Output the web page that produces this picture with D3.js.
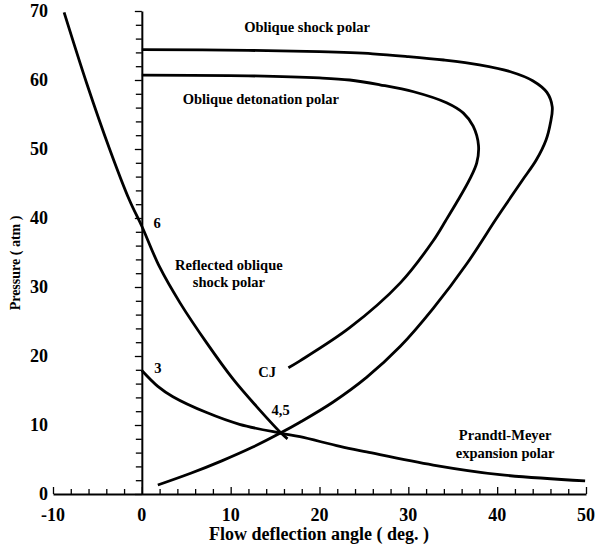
<!DOCTYPE html>
<html>
<head>
<meta charset="utf-8">
<script src="https://cdn.jsdelivr.net/npm/d3@7"></script>
<style>
  body { margin: 0; background: #fff; }
  svg { display: block; }
  text { font-family: "Liberation Serif", "Times New Roman", serif; font-weight: bold; fill: #000; }
</style>
</head>
<body>
<div id="chart"></div>
<script>
// values: [deflection angle (deg), pressure (atm)]
const reflectedShock = [
  [-8.75, 69.8], [-6.2, 59.5], [-3.6, 49.9], [-1.4, 42.6], [0, 38.8], [2.0, 32.9],
  [4.3, 27.7], [7.3, 21.9], [10.3, 16.6], [12.9, 12.7], [15.7, 8.8], [16.4, 8.0]
];
const obliqueShock = [
  [0, 64.4], [12, 64.3], [20, 64.1], [26, 63.8], [30, 63.4], [34, 62.9], [38, 62.2],
  [41.5, 61.2], [44, 59.9], [45.6, 58.2], [46.2, 56.1], [46.0, 53.8], [45.5, 51.3],
  [44.4, 48.4], [42.8, 45.4], [41.0, 42.0], [39.8, 39.7], [36.6, 33.4], [32.8, 26.9],
  [29.1, 21.4], [25.3, 16.9], [21.5, 13.3], [17.8, 10.4], [15.7, 8.9], [12.5, 6.8],
  [9.0, 4.8], [5.5, 3.0], [1.8, 1.3]
];
const obliqueDetonation = [
  [0, 60.7], [12, 60.6], [20, 60.3], [23.4, 60.0], [26.8, 59.3], [30.6, 58.3],
  [34.3, 56.7], [36.2, 55.2], [37.3, 53.3], [37.9, 50.5], [37.7, 48.0], [36.9, 45.6],
  [35.6, 42.6], [34.2, 39.6], [32.8, 36.7], [29.1, 30.6], [23.4, 24.1], [17.8, 19.3],
  [16.5, 18.3]
];
const prandtlMeyer = [
  [0, 17.9], [1.8, 15.6], [3.5, 14.1], [7.3, 11.8], [11, 10.1], [15.7, 8.8],
  [17.8, 8.3], [22.3, 6.9], [25.3, 6.1], [32.8, 4.2], [40.3, 2.8], [49.9, 1.9]
];

const xTicks = [-10, 0, 10, 20, 30, 40, 50];
const yTicks = [0, 10, 20, 30, 40, 50, 60, 70];

// annotations: [text lines, x (deg), pressure (atm), anchor]
const notes = [
  [["Oblique shock polar"], 18.6, 67.0, "middle"],
  [["Oblique detonation polar"], 13.4, 56.5, "middle"],
  [["Reflected oblique", "shock polar"], 9.8, 32.5, "middle"],
  [["Prandtl-Meyer", "expansion polar"], 40.9, 7.8, "middle"],
  [["6"], 1.3, 38.5, "start"],
  [["3"], 1.4, 17.5, "start"],
  [["CJ"], 13.1, 17.0, "start"],
  [["4,5"], 14.6, 11.4, "start"]
];

const width = 596, height = 550;
const x = d3.scaleLinear([-10, 50], [53, 586]);
const y = d3.scaleLinear([0, 70], [494, 11]);

const svg = d3.select("#chart").append("svg")
  .attr("width", width)
  .attr("height", height);

// x axis: ticks pointing up, labels below
const xAxis = svg.append("g")
  .attr("transform", `translate(0,${y(0)})`)
  .call(d3.axisTop(x).tickValues(d3.range(-10, 51, 2)).tickSize(5).tickFormat("").tickSizeOuter(0));
xAxis.select(".domain").attr("stroke-width", 2);
xAxis.selectAll(".tick line").attr("stroke-width", 1.3);
xAxis.selectAll(".tick").filter(d => d % 10 === 0).select("line").attr("y2", -7);

svg.append("g").selectAll("text").data(xTicks).join("text")
  .attr("x", d => x(d))
  .attr("y", 521)
  .attr("text-anchor", "middle")
  .attr("font-size", 18)
  .text(d => d);

// y axis at x = 0: ticks pointing left
const yAxis = svg.append("g")
  .attr("transform", `translate(${x(0)},0)`)
  .call(d3.axisLeft(y).tickValues(d3.range(0, 71, 2)).tickSize(6).tickFormat("").tickSizeOuter(0));
yAxis.select(".domain").attr("stroke-width", 2);
yAxis.selectAll(".tick line").attr("stroke-width", 1.3);
yAxis.selectAll(".tick").filter(d => d % 10 === 0).select("line").attr("x2", -7);

svg.append("g").selectAll("text").data(yTicks).join("text")
  .attr("x", 48)
  .attr("y", d => y(d))
  .attr("dy", "0.35em")
  .attr("text-anchor", "end")
  .attr("font-size", 18)
  .text(d => d);

// axis titles
svg.append("text")
  .attr("x", 319)
  .attr("y", 540)
  .attr("text-anchor", "middle")
  .attr("font-size", 18)
  .text("Flow deflection angle ( deg. )");

svg.append("text")
  .attr("transform", "translate(20,263) rotate(-90)")
  .attr("text-anchor", "middle")
  .attr("font-size", 14)
  .text("Pressure ( atm )");

// polars
const line = d3.line()
  .x(d => x(d[0]))
  .y(d => y(d[1]))
  .curve(d3.curveCatmullRom.alpha(0.5));

svg.append("g")
  .attr("fill", "none")
  .attr("stroke", "#000")
  .attr("stroke-width", 2.8)
  .selectAll("path")
  .data([reflectedShock, obliqueShock, obliqueDetonation, prandtlMeyer])
  .join("path")
  .attr("d", line);

// labels
const noteG = svg.append("g").attr("font-size", 14.5);
for (const [lines, nx, ny, anchor] of notes) {
  const t = noteG.append("text")
    .attr("x", x(nx))
    .attr("y", y(ny))
    .attr("text-anchor", anchor);
  lines.forEach((s, i) => {
    t.append("tspan").attr("x", x(nx)).attr("dy", i ? 17.5 : 0).text(s);
  });
}
</script>
</body>
</html>
